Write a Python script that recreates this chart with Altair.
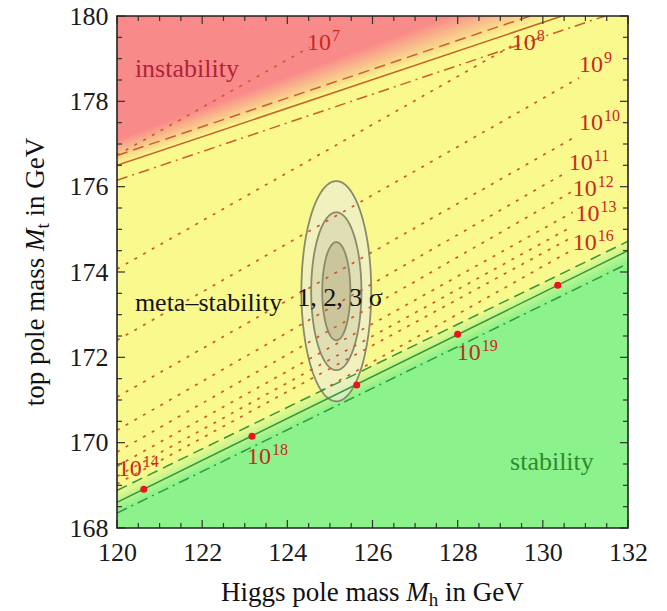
import altair as alt
import numpy as np
import pandas as pd

# ---- layout --------------------------------------------------------------
W, H = 511, 512
MH_DOMAIN = [120, 132]
MT_DOMAIN = [168, 180]

SERIF = "Liberation Serif"
RED_BG = "#f98a8a"
YELLOW_BG = "#f9f98e"
GREEN_BG = "#8cf28c"
INST_LINE = "#c8602c"
STAB_LINE = "#36963a"
DOT_LINE = "#cc5c2c"
LABEL_RED = "#c82a1e"

# ---- data ----------------------------------------------------------------
# absolute-stability boundary (central alpha_s, and its +/- variations)
stab_mh = [120.0, 132.0]
stab_solid_mt = [168.60, 174.50]
stab_dashed_mt = [168.88, 174.72]
stab_dashdot_mt = [168.35, 174.20]

# instability boundary
inst_solid_mh = [120.0, 130.45]
inst_solid_mt = [176.50, 180.0]
inst_dashed_mh = [120.0, 129.70]
inst_dashed_mt = [176.73, 180.0]
inst_dashdot_mh = [120.0, 131.46]
inst_dashdot_mt = [176.15, 180.0]

# colour grading of the regions (edge lines given at Mh = 120 and 132)
red_fade_from = [176.50, 180.52]   # still meta-stable colour
red_fade_to = [177.10, 181.56]     # fully unstable colour
green_fade_from = [168.93, 174.77]
green_fade_to = [168.38, 174.22]

# contours of the instability scale Lambda = 10^n GeV
contour_n = [7, 8, 9, 10, 11, 12, 13, 14, 15, 16]
contour_mh_start = [120.0, 120.0, 120.0, 120.0, 120.0, 120.0, 120.0, 120.0, 120.0, 124.8]
contour_mt_start = [176.74, 174.07, 172.40, 171.07, 170.29, 169.78, 169.45, 169.21, 169.03, 171.22]
contour_mh_end = [124.53, 129.27, 130.85, 130.80, 130.56, 130.66, 130.70, 130.66, 130.66, 130.66]
contour_mt_end = [179.27, 179.30, 178.55, 177.19, 176.34, 175.87, 175.40, 175.05, 174.80, 174.50]

# contour labels 10^n (left edge / baseline of the "10")
label_exp = ["7", "8", "9", "10", "11", "12", "13", "16", "14", "18", "19"]
label_mh = [124.46, 129.27, 130.85, 130.85, 130.61, 130.70, 130.77, 130.70, 120.02, 123.05, 127.98]
label_mt = [179.20, 179.20, 178.69, 177.33, 176.39, 175.78, 175.20, 174.51, 169.21, 169.50, 171.93]

# marked points on the stability boundary
dot_mh = [120.63, 123.17, 125.63, 128.00, 130.35]
dot_mt = [168.91, 170.15, 171.35, 172.54, 173.69]

# experimental 1, 2, 3 sigma ellipses (Mh, Mt)
ell_center = (125.15, 173.55)
ell_level = [3, 2, 1]
ell_a = [0.82, 0.59, 0.33]
ell_b = [2.58, 1.85, 1.15]
ell_fill = ["#ecebdc", "#b8b49a", "#a09870"]
ell_opacity = [0.62, 0.3, 0.35]

mh_major = [120, 122, 124, 126, 128, 130, 132]
mt_major = [168, 170, 172, 174, 176, 178, 180]
mh_minor = [v / 2 for v in range(240, 265) if v % 4]
mt_minor = [v / 2 for v in range(336, 361) if v % 4]

# ---- scales & helpers ----------------------------------------------------
x_sc = alt.Scale(domain=MH_DOMAIN, nice=False, zero=False)
y_sc = alt.Scale(domain=MT_DOMAIN, nice=False, zero=False)
axis_common = dict(ticks=False, domain=False, grid=False, labelFont=SERIF,
                   labelFontSize=26, labelColor="#1a1a1a", labelFlush=False,
                   labelOverlap=False, format="d", title=None)
X_AXIS = alt.Axis(values=mh_major, labelPadding=11, **axis_common)
Y_AXIS = alt.Axis(values=mt_major, labelPadding=9, **axis_common)


def X(f):
    return alt.X(f, type="quantitative", scale=x_sc, axis=X_AXIS)


def Y(f):
    return alt.Y(f, type="quantitative", scale=y_sc, axis=Y_AXIS)


def mix(c0, c1, f):
    a = [int(c0[i:i + 2], 16) for i in (1, 3, 5)]
    b = [int(c1[i:i + 2], 16) for i in (1, 3, 5)]
    return "#" + "".join(f"{round(p + (q - p) * f):02x}" for p, q in zip(a, b))


def fade_layers(edge_from, edge_to, far, c0, c1, steps=18):
    """Stack of areas reaching from a shifted edge to the plot border; each
    later one covers the previous, producing a graded colour transition."""
    out = []
    for i in range(1, steps + 1):
        f = (i - 0.5) / steps
        lo = [a + (b - a) * f for a, b in zip(edge_from, edge_to)]
        df = pd.DataFrame({"mh": MH_DOMAIN, "edge": lo, "far": [far, far]})
        out.append(alt.Chart(df).mark_area(color=mix(c0, c1, i / steps), clip=True)
                   .encode(x=X("mh"), y=Y("edge"), y2="far"))
    return out


def seg(mh, mt, color, dash=None, width=1.5):
    kw = dict(color=color, strokeWidth=width, clip=True)
    if dash:
        kw["strokeDash"] = dash
    return alt.Chart(pd.DataFrame({"mh": mh, "mt": mt})).mark_line(**kw).encode(
        x=X("mh"), y=Y("mt"))


one = pd.DataFrame({"k": [0]})


def px_text(text, px, py, size, angle=0, style="normal", color="#111"):
    kw = dict(font=SERIF, fontSize=size, align="left", baseline="alphabetic",
              color=color, fontStyle=style)
    if angle:
        kw["angle"] = angle
    return alt.Chart(one).mark_text(**kw).encode(
        x=alt.value(px), y=alt.value(py), text=alt.value(text))


# ---- regions -------------------------------------------------------------
red_layers = fade_layers(red_fade_from, red_fade_to, 180.0, YELLOW_BG, RED_BG)
green_layers = fade_layers(green_fade_from, green_fade_to, 168.0, YELLOW_BG, GREEN_BG)

# ---- ellipses ------------------------------------------------------------
theta = np.linspace(np.pi, 0, 181)
ell_layers = []
for lvl, a, b, fc, fo in zip(ell_level, ell_a, ell_b, ell_fill, ell_opacity):
    edf = pd.DataFrame({
        "mh": ell_center[0] + a * np.cos(theta),
        "hi": ell_center[1] + b * np.sin(theta),
        "lo": ell_center[1] - b * np.sin(theta),
    })
    ell_layers.append(
        alt.Chart(edf).mark_area(fill=fc, fillOpacity=fo, stroke="#8a8a6c",
                                 strokeWidth=1.8).encode(x=X("mh"), y=Y("hi"), y2="lo"))

# ---- contour lines -------------------------------------------------------
crows = []
for n, x0, y0, x1, y1 in zip(contour_n, contour_mh_start, contour_mt_start,
                             contour_mh_end, contour_mt_end):
    crows += [{"n": n, "mh": x0, "mt": y0}, {"n": n, "mh": x1, "mt": y1}]
contours = alt.Chart(pd.DataFrame(crows)).mark_line(
    color=DOT_LINE, strokeWidth=1.7, strokeDash=[3, 7], clip=True).encode(
    x=X("mh"), y=Y("mt"), detail="n:N")

boundaries = [
    seg(inst_dashed_mh, inst_dashed_mt, INST_LINE, [11, 6]),
    seg(inst_solid_mh, inst_solid_mt, INST_LINE),
    seg(inst_dashdot_mh, inst_dashdot_mt, INST_LINE, [11, 5, 2, 5]),
    seg(stab_mh, stab_dashed_mt, STAB_LINE, [11, 6]),
    seg(stab_mh, stab_solid_mt, STAB_LINE),
    seg(stab_mh, stab_dashdot_mt, STAB_LINE, [11, 5, 2, 5]),
]

dots = alt.Chart(pd.DataFrame({"mh": dot_mh, "mt": dot_mt})).mark_circle(
    color="#e8141e", size=50, opacity=1).encode(x=X("mh"), y=Y("mt"))

# ---- labels --------------------------------------------------------------
lab_df = pd.DataFrame({"mh": label_mh, "mt": label_mt, "e": label_exp})
lab_base = alt.Chart(lab_df).mark_text(
    font=SERIF, fontSize=24, color=LABEL_RED, align="left", baseline="alphabetic").encode(
    x=X("mh"), y=Y("mt"), text=alt.value("10"))
lab_exp = alt.Chart(lab_df).mark_text(
    font=SERIF, fontSize=16, color=LABEL_RED, align="left", baseline="alphabetic",
    dx=25, dy=-9).encode(x=X("mh"), y=Y("mt"), text="e:N")

region_text = pd.DataFrame({
    "txt": ["instability", "meta\u2013stability", "1, 2, 3 \u03c3", "stability"],
    "mh": [120.42, 120.42, 124.23, 129.23],
    "mt": [178.57, 173.08, 173.20, 169.36],
    "col": ["#b0243a", "#141414", "#141414", "#2e8b2e"],
})
regions_txt = alt.Chart(region_text).mark_text(
    font=SERIF, fontSize=26, align="left", baseline="alphabetic").encode(
    x=X("mh"), y=Y("mt"), text="txt:N", color=alt.Color("col:N", scale=None))

# ---- frame & inward ticks ------------------------------------------------
tick_layers = []
for vals, L in ((mh_major, 8), (mh_minor, 5)):
    d = pd.DataFrame({"v": vals})
    tick_layers.append(alt.Chart(d).mark_rule(color="#333", strokeWidth=1.2).encode(
        x=X("v"), y=alt.value(H), y2=alt.value(H - L)))
    tick_layers.append(alt.Chart(d).mark_rule(color="#333", strokeWidth=1.2).encode(
        x=X("v"), y=alt.value(0), y2=alt.value(L)))
for vals, L in ((mt_major, 8), (mt_minor, 5)):
    d = pd.DataFrame({"v": vals})
    tick_layers.append(alt.Chart(d).mark_rule(color="#333", strokeWidth=1.2).encode(
        y=Y("v"), x=alt.value(0), x2=alt.value(L)))
    tick_layers.append(alt.Chart(d).mark_rule(color="#333", strokeWidth=1.2).encode(
        y=Y("v"), x=alt.value(W), x2=alt.value(W - L)))

frame = alt.Chart(one).mark_rect(fillOpacity=0, stroke="#222", strokeWidth=1.6).encode(
    x=alt.value(0), x2=alt.value(W), y=alt.value(0), y2=alt.value(H))

# axis titles with italic symbol and subscript
TS = 27
xt0 = 104.1
x_title = [
    px_text("Higgs pole mass", xt0, 585, TS),
    px_text("M", xt0 + 6.861 * TS, 585, TS, style="italic"),
    px_text("h", xt0 + 7.694 * TS, 590, 19),
    px_text("in GeV", xt0 + 7.694 * TS + 9.5 + 6.75, 585, TS),
]
yt0 = 390.3
y_title = [
    px_text("top pole mass", -73.5, yt0, TS, angle=270),
    px_text("M", -73.5, yt0 - 5.75 * TS, TS, angle=270, style="italic"),
    px_text("t", -68.5, yt0 - 6.583 * TS, 19, angle=270),
    px_text("in GeV", -73.5, yt0 - 6.583 * TS - 5.3 - 6.75, TS, angle=270),
]

chart = alt.layer(
    *green_layers, *red_layers, *ell_layers, contours, *boundaries, dots,
    lab_base, lab_exp, regions_txt, *tick_layers, frame, *x_title, *y_title,
).properties(
    width=W, height=H, autosize="none",
    padding={"left": 117, "top": 16, "right": 39, "bottom": 83},
).configure_view(fill=YELLOW_BG, strokeWidth=0)

chart.save("out.html", embed_options={"renderer": "svg", "actions": False})
